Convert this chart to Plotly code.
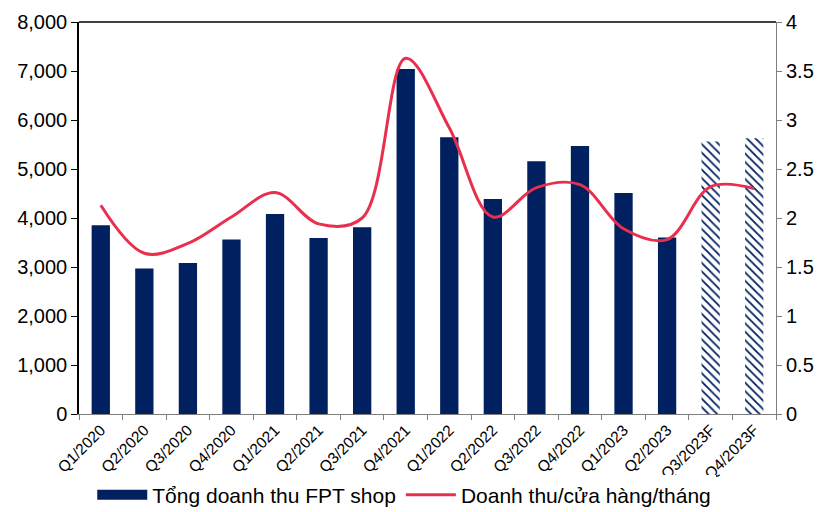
import plotly.graph_objects as go

quarters = ["Q1/2020", "Q2/2020", "Q3/2020", "Q4/2020", "Q1/2021", "Q2/2021", "Q3/2021", "Q4/2021",
            "Q1/2022", "Q2/2022", "Q3/2022", "Q4/2022", "Q1/2023", "Q2/2023", "Q3/2023F", "Q4/2023F"]
tong_doanh_thu = [3850, 2970, 3080, 3560, 4080, 3590, 3810, 7040,
                  5650, 4390, 5160, 5470, 4510, 3600, 5560, 5630]
doanh_thu_cua_hang = [2.13, 1.64, 1.74, 2.01, 2.26, 1.94, 2.00, 3.63,
                      2.92, 2.01, 2.31, 2.34, 1.89, 1.78, 2.32, 2.30]
forecast = [False] * 14 + [True, True]

navy = "#002060"
red = "#E8304E"
font = "Liberation Sans, Arial, sans-serif"

fig = go.Figure()
fig.add_trace(go.Bar(
    x=quarters, y=tong_doanh_thu, name="Tổng doanh thu FPT shop",
    marker=dict(color=navy, line=dict(width=0),
                pattern=dict(shape=["\\" if f else "" for f in forecast],
                             fillmode="replace", bgcolor="white",
                             size=6, solidity=0.3)),
    width=0.42, showlegend=False,
))
# legend entry with a wide rectangular swatch for the bar series
fig.add_trace(go.Scatter(
    x=[None], y=[None], name="Tổng doanh thu FPT shop", mode="lines",
    line=dict(color=navy, width=12), hoverinfo="skip",
))
fig.add_trace(go.Scatter(
    x=quarters, y=doanh_thu_cua_hang, name="Doanh thu/cửa hàng/tháng",
    mode="lines", line=dict(color=red, width=3, shape="spline", smoothing=1.0),
    yaxis="y2",
))

fig.update_layout(
    width=825, height=512,
    margin=dict(l=79, r=49, t=22, b=98),
    plot_bgcolor="white", paper_bgcolor="white",
    font=dict(family=font, color="black"),
    showlegend=True,
    legend=dict(orientation="h", xref="container", x=0.49, xanchor="center",
                yref="container", y=0.033, yanchor="middle",
                font=dict(size=21, family=font), itemwidth=50, traceorder="normal"),
    xaxis=dict(type="category", showline=True, linecolor="#7f7f7f", linewidth=1,
               ticks="outside", tickson="boundaries", ticklen=5, tickcolor="#7f7f7f",
               tickangle=-45, tickfont=dict(size=15.5), showgrid=False, automargin=False),
    yaxis=dict(range=[0, 8000], dtick=1000, tickformat=",d", showline=True,
               linecolor="black", linewidth=1.5, ticks="outside", ticklen=6,
               tickcolor="black", tickfont=dict(size=20), showgrid=False, zeroline=False,
               automargin=False),
    yaxis2=dict(range=[0, 4], dtick=0.5, overlaying="y", side="right", showline=True,
                linecolor="#7f7f7f", linewidth=1, ticks="outside", ticklen=5,
                tickcolor="#7f7f7f", tickfont=dict(size=20), showgrid=False, zeroline=False,
                automargin=False),
    shapes=[dict(type="line", xref="paper", yref="paper", x0=0, x1=1, y0=1, y1=1,
                 line=dict(color="black", width=1.5))],
)

fig.write_html("out.html", config={"displayModeBar": False},
               post_script="document.body.style.margin='0';document.body.style.overflow='hidden';")
